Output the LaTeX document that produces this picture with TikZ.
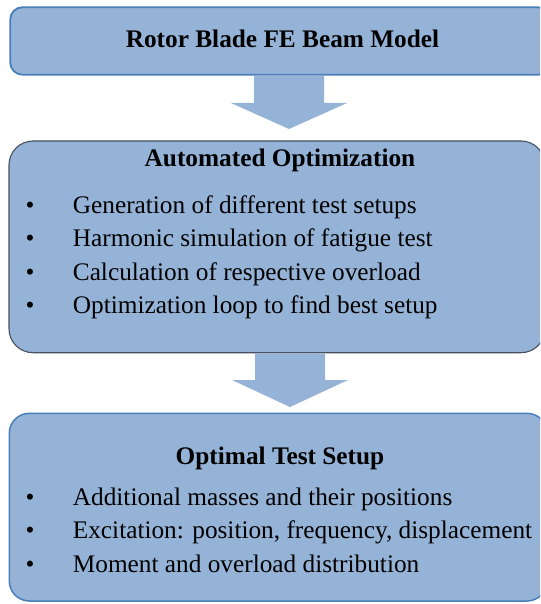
\documentclass[tikz,border=0pt]{standalone}
\usepackage{fontspec}
\setmainfont{Liberation Serif}
\usetikzlibrary{calc}
\definecolor{boxfill}{HTML}{95B3D7}
\definecolor{blueline}{HTML}{4A7EBB}
\definecolor{grayline}{HTML}{46505E}
\begin{document}
\begin{tikzpicture}[x=1pt,y=-1pt,
  box/.style={rectangle, fill=boxfill, anchor=north west, inner sep=0pt, outer sep=0pt},
  blockarrow/.style={fill=boxfill},
  titletext/.style={anchor=base, inner sep=0pt, font=\fontsize{25.3}{33.5}\selectfont\bfseries},
  itemtext/.style={anchor=base west, inner sep=0pt, font=\fontsize{25.3}{33.5}\selectfont},
]
\useasboundingbox (0,0) rectangle (540,604);
\clip (0,0) rectangle (540,604);
\fill[white] (0,0) rectangle (540,604);

% boxes
\node[box, draw=blueline, line width=1.8pt, rounded corners=12pt,
      minimum width=540pt, minimum height=67.4pt] (top) at (10.3,7.3) {};
\node[box, draw=grayline, line width=1.1pt, rounded corners=24pt,
      minimum width=536pt, minimum height=211.7pt] (mid) at (9,141) {};
\node[box, draw=blueline, line width=1.5pt, rounded corners=20pt,
      minimum width=537.7pt, minimum height=187.7pt] (bot) at (9.3,413.3) {};

% block arrows
\coordinate (ax1) at (289,0);
\coordinate (ax2) at (290,0);
\coordinate (a1s) at (top.south -| ax1);
\coordinate (a1t) at ($(mid.north -| ax1)+(0,-12)$);
\coordinate (a2s) at (mid.south -| ax2);
\coordinate (a2t) at ($(bot.north -| ax2)+(0,-6.3)$);
\fill[blockarrow] ($(a1s)+(-35,0.9)$) -- ($(a1s)+(35,0.9)$) -- ($(a1t)+(35,-26)$)
  -- ($(a1t)+(58,-26)$) -- (a1t) -- ($(a1t)+(-58,-26)$) -- ($(a1t)+(-35,-26)$) -- cycle;
\fill[blockarrow] ($(a2s)+(-35,0.6)$) -- ($(a2s)+(35,0.6)$) -- ($(a2t)+(35,-27)$)
  -- ($(a2t)+(58,-27)$) -- (a2t) -- ($(a2t)+(-58,-27)$) -- ($(a2t)+(-35,-27)$) -- cycle;

% titles
\node[titletext] (t1) at (282.5,47.5) {Rotor Blade FE Beam Model};
\node[titletext] (t2) at (280,167) {Automated Optimization};
\node[titletext] (t3) at (280,464.5) {Optimal Test Setup};

% bullets middle
\node[itemtext] (m1) at (25.5,213) {\makebox[47.2pt][l]{\textbullet}Generation of different test setups};
\node[itemtext] (m2) at (25.5,246.5) {\makebox[47.2pt][l]{\textbullet}Harmonic simulation of fatigue test};
\node[itemtext] (m3) at (25.5,280) {\makebox[47.2pt][l]{\textbullet}Calculation of respective overload};
\node[itemtext] (m4) at (25.5,313.5) {\makebox[47.2pt][l]{\textbullet}Optimization loop to find best setup};

% bullets bottom
\node[itemtext] (b1) at (25.5,505) {\makebox[47.2pt][l]{\textbullet}Additional masses and their positions};
\node[itemtext] (b2) at (25.5,538.5) {\makebox[47.2pt][l]{\textbullet}Excitation: position, frequency, displacement};
\node[itemtext] (b3) at (25.5,572) {\makebox[47.2pt][l]{\textbullet}Moment and overload distribution};
\end{tikzpicture}
\end{document}
